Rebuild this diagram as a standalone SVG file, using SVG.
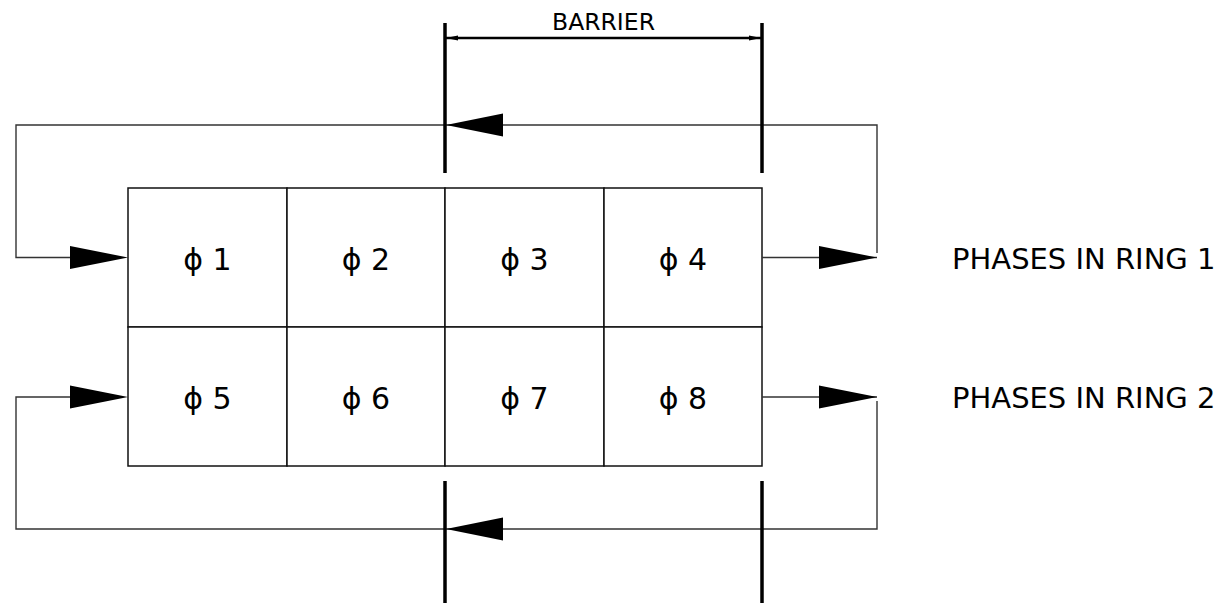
<svg xmlns="http://www.w3.org/2000/svg" width="1224" height="603" viewBox="0 0 1224 603">
  <style>
    .cell { fill: #ffffff; stroke: #111; stroke-width: 1.5; }
    .lbl { font-family: "DejaVu Sans", "Liberation Sans", sans-serif; font-size: 30px; fill: #000; text-anchor: middle; }
    .dim { font-family: "DejaVu Sans", "Liberation Sans", sans-serif; font-size: 23.5px; fill: #000; text-anchor: middle; }
    .side { font-family: "DejaVu Sans", "Liberation Sans", sans-serif; font-size: 29px; fill: #000; }
    .wire { fill: none; stroke: #333; stroke-width: 1.4; }
    .bar { fill: none; stroke: #000; stroke-width: 3.5; }
    .head { fill: #000; }
  </style>

  <!-- barrier dimension -->
  <g id="barrier-dim">
    <text class="dim" x="603.5" y="29.5">BARRIER</text>
    <line x1="445" y1="38" x2="762" y2="38" stroke="#000" stroke-width="2.5"/>
    <polygon class="head" points="446,38 458,35.5 458,40.5"/>
    <polygon class="head" points="761,38 749,35.5 749,40.5"/>
  </g>

  <!-- phase cells, ring 1 -->
  <g id="phase-1"><rect class="cell" x="128" y="188" width="159" height="139"/><text class="lbl" x="207.5" y="270">ϕ 1</text></g>
  <g id="phase-2"><rect class="cell" x="287" y="188" width="158" height="139"/><text class="lbl" x="366" y="270">ϕ 2</text></g>
  <g id="phase-3"><rect class="cell" x="445" y="188" width="159" height="139"/><text class="lbl" x="524.5" y="270">ϕ 3</text></g>
  <g id="phase-4"><rect class="cell" x="604" y="188" width="158" height="139"/><text class="lbl" x="683" y="270">ϕ 4</text></g>
  <!-- phase cells, ring 2 -->
  <g id="phase-5"><rect class="cell" x="128" y="327" width="159" height="139"/><text class="lbl" x="207.5" y="409">ϕ 5</text></g>
  <g id="phase-6"><rect class="cell" x="287" y="327" width="158" height="139"/><text class="lbl" x="366" y="409">ϕ 6</text></g>
  <g id="phase-7"><rect class="cell" x="445" y="327" width="159" height="139"/><text class="lbl" x="524.5" y="409">ϕ 7</text></g>
  <g id="phase-8"><rect class="cell" x="604" y="327" width="158" height="139"/><text class="lbl" x="683" y="409">ϕ 8</text></g>

  <g id="ring-labels">
    <text class="side" x="952" y="269">PHASES IN RING 1</text>
    <text class="side" x="952" y="408">PHASES IN RING 2</text>
  </g>

  <!-- ring loops and barrier lines -->
  <g id="connectors">
    <!-- ring 1 -->
    <polyline class="wire" points="762,257.5 877,257.5"/>
    <polyline class="wire" points="877,253 877,125 16,125 16,257.5 72,257.5"/>
    <polygon class="head" points="819,246 877,257.5 819,269"/>
    <polygon class="head" points="70,246 128,257.5 70,269"/>
    <polygon class="head" points="503,113.5 446,125 503,136.5"/>
    <!-- ring 2 -->
    <polyline class="wire" points="762,397 877,397"/>
    <polyline class="wire" points="877,401 877,529 16,529 16,397 72,397"/>
    <polygon class="head" points="819,385.5 877,397 819,408.5"/>
    <polygon class="head" points="70,385.5 128,397 70,408.5"/>
    <polygon class="head" points="503,517.5 446,529 503,540.5"/>
    <!-- barrier -->
    <line class="bar" x1="445" y1="23" x2="445" y2="173"/>
    <line class="bar" x1="762" y1="23" x2="762" y2="173"/>
    <line class="bar" x1="445" y1="481" x2="445" y2="603"/>
    <line class="bar" x1="762" y1="481" x2="762" y2="603"/>
  </g>
</svg>
